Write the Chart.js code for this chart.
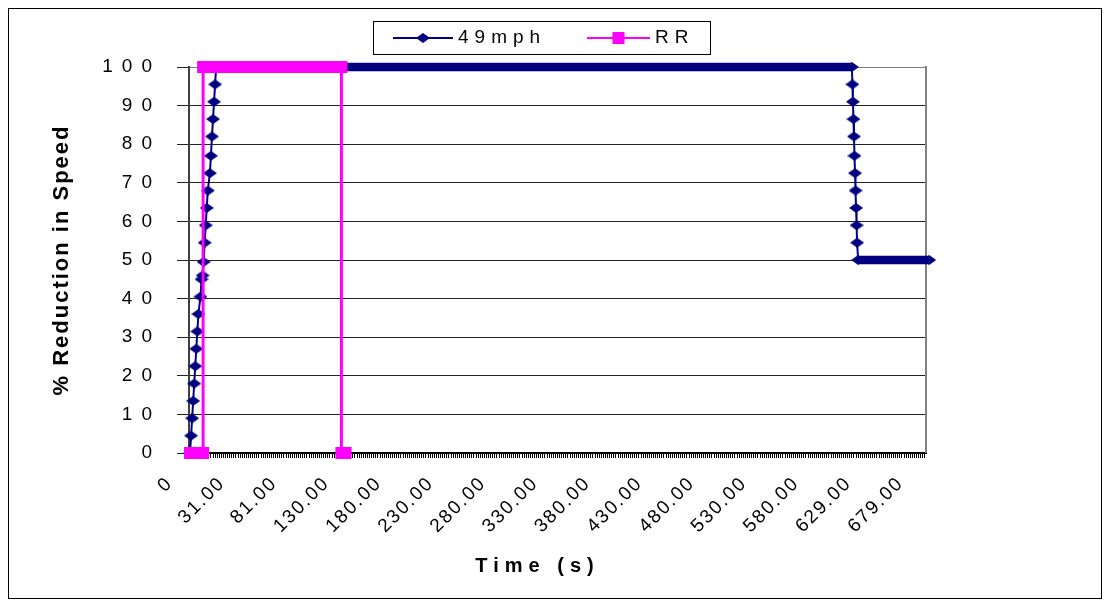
<!DOCTYPE html>
<html><head><meta charset="utf-8">
<script src="https://cdn.jsdelivr.net/npm/chart.js@4.4.0/dist/chart.umd.min.js"></script>
<style>html,body{margin:0;padding:0;background:#fff}canvas{display:block}</style>
</head><body>
<canvas id="c" width="1110" height="609"></canvas>
<script>
// ---- data (x = sample index along the category axis, y = % reduction in speed)
const timeLabels = ['0','31.00','81.00','130.00','180.00','230.00','280.00','330.00','380.00','430.00','480.00','530.00','580.00','629.00','679.00'];
const labelEvery = 50;

const mph49X = [0,1,2,3,4,5,6,7,8,10,11,12,13,14,15,16,17,19,20,21,22,23,24,25,
                634,634.5,635,635.5,636,636.5,637,637.5,638,638.5,639,640,708];
const mph49Y = [0,4.5,9,13.5,18,22.5,27,31.5,36,40.5,45,46,49.5,54.5,59,63.5,68,72.5,77,82,86.5,91,95.5,100,
                100,95.5,91,86.5,82,77,72.5,68,63.5,59,54.5,50,50];

const rrX = [0,12.5,12.5,145,145,149];
const rrY = [0,0,100,100,0,0];

const seriesNames = ['49mph','RR'];
const yTickValues = [0,10,20,30,40,50,60,70,80,90,100];

// ---- styling
const FONT = '"Liberation Sans", Arial, sans-serif';
const NAVY = '#000080', PINK = '#FF00FF';
const toPts = (xs, ys) => xs.map((x, i) => ({x: x, y: ys[i]}));

function wideDiamond(w, h, color) {
  const cv = document.createElement('canvas');
  cv.width = w; cv.height = h;
  const k = cv.getContext('2d');
  k.fillStyle = color;
  k.beginPath();
  k.moveTo(w / 2, 0); k.lineTo(w, h / 2); k.lineTo(w / 2, h); k.lineTo(0, h / 2);
  k.closePath(); k.fill();
  return cv;
}
const diamond = wideDiamond(14, 10, NAVY);

const frame = {
  id: 'frame',
  beforeDraw(chart) {
    const c = chart.ctx;
    c.save();
    c.fillStyle = '#fff';
    c.fillRect(0, 0, chart.width, chart.height);
    c.strokeStyle = '#000'; c.lineWidth = 1;
    c.strokeRect(8.5, 8.5, 1093, 590);
    c.restore();
    const patch = (scale, fn, ls, dx, dy) => {
      const key = '__p_' + fn;
      if (scale[key]) return;
      const orig = scale[fn];
      scale[fn] = function(...a) {
        const k = this.ctx; k.save(); k.letterSpacing = ls; k.translate(dx || 0, dy || 0);
        orig.apply(this, a); k.restore();
      };
      scale[key] = true;
    };
    patch(chart.scales.y, 'drawLabels', '9px');
    patch(chart.scales.y, 'drawTitle', '2px');
    patch(chart.scales.x, 'drawLabels', '2px');
    patch(chart.scales.x, 'drawTitle', '6px', -20, 0);
  },
  beforeDatasetsDraw(chart) {
    const a = chart.chartArea, c = chart.ctx;
    c.save();
    c.strokeStyle = '#808080'; c.lineWidth = 2;
    c.beginPath(); c.moveTo(a.right, a.top - 1); c.lineTo(a.right, a.bottom); c.stroke();
    c.restore();
  },
  afterDraw(chart) {
    const c = chart.ctx;
    c.save();
    c.fillStyle = '#fff'; c.fillRect(373.5, 21.5, 337, 33);
    c.strokeStyle = '#000'; c.lineWidth = 1; c.strokeRect(373.5, 21.5, 337, 33);
    const items = [{x0: 393, x1: 453, tx: 458}, {x0: 587, x1: 650, tx: 655}];
    const yc = 38;
    chart.data.datasets.forEach((ds, i) => {
      const it = items[i];
      c.strokeStyle = ds.borderColor; c.lineWidth = 2;
      c.beginPath(); c.moveTo(it.x0, yc); c.lineTo(it.x1, yc); c.stroke();
      c.fillStyle = ds.pointBackgroundColor; c.strokeStyle = ds.pointBorderColor;
      Chart.helpers.drawPoint(c, {pointStyle: ds.pointStyle, radius: ds.pointRadius, borderWidth: ds.pointBorderWidth, rotation: 0}, (it.x0 + it.x1) / 2, yc);
      c.fillStyle = '#000';
      c.font = '19px ' + FONT;
      c.letterSpacing = '6px';
      c.textBaseline = 'middle'; c.textAlign = 'left';
      c.fillText(ds.label, it.tx, yc);
      c.letterSpacing = '0px';
    });
    c.restore();
  }
};

const flatWidth = (w, thin) => (ctx) => ctx.p0.parsed.y === ctx.p1.parsed.y ? w : thin;

new Chart(document.getElementById('c'), {
  type: 'line',
  data: {
    datasets: [
      {
        label: seriesNames[0], data: toPts(mph49X, mph49Y), order: 1,
        borderColor: NAVY, borderWidth: 2, tension: 0, clip: false,
        pointStyle: diamond, pointRadius: 6, pointBackgroundColor: NAVY, pointBorderColor: NAVY, pointBorderWidth: 0,
        segment: {borderWidth: flatWidth(8.5, 2)}
      },
      {
        label: seriesNames[1], data: toPts(rrX, rrY), order: 0,
        borderColor: PINK, borderWidth: 3, tension: 0, clip: false,
        pointStyle: 'rect', pointRadius: 8.5, pointBackgroundColor: PINK, pointBorderColor: PINK, pointBorderWidth: 0,
        segment: {borderWidth: flatWidth(12, 3)}
      }
    ]
  },
  options: {
    responsive: false, animation: false, events: [],
    layout: {padding: {left: 0, right: 184, top: 67, bottom: 0}},
    plugins: {legend: {display: false}, tooltip: {enabled: false}},
    scales: {
      x: {
        type: 'linear', min: -1, max: 705,
        afterBuildTicks: (axis) => {
          const t = [];
          for (let v = 0; v <= 704; v += 2) t.push({value: v});
          axis.ticks = t;
        },
        afterFit: (s) => { s.height = 156; },
        ticks: {
          autoSkip: false, maxRotation: 45, minRotation: 45, padding: 14, labelOffset: -20,
          color: '#000', font: {family: FONT, size: 19},
          callback: (v) => (v % labelEvery === 0 && timeLabels[v / labelEvery] !== undefined) ? timeLabels[v / labelEvery] : ''
        },
        grid: {drawOnChartArea: false, drawTicks: true, tickLength: 5, tickColor: '#000', lineWidth: 1},
        border: {display: true, color: '#000', width: 2},
        title: {display: true, text: 'Time (s)', color: '#000', font: {family: FONT, size: 20, weight: 'bold'}, padding: {top: 4, bottom: 31}}
      },
      y: {
        min: 0, max: 100,
        afterBuildTicks: (axis) => { axis.ticks = yTickValues.map(v => ({value: v})); },
        afterFit: (s) => { s.width = 189; },
        ticks: {padding: 16, color: '#000', font: {family: FONT, size: 19}},
        grid: {color: (c) => c.tick && c.tick.value === 100 ? '#808080' : '#222', lineWidth: 1, tickLength: 12, drawTicks: true, tickColor: '#222'},
        border: {display: true, color: '#404040', width: 2},
        title: {display: true, text: '% Reduction in Speed', color: '#000', font: {family: FONT, size: 22, weight: 'bold'}, padding: {top: 49, bottom: 0}}
      }
    }
  },
  plugins: [frame]
});
</script>
</body></html>
